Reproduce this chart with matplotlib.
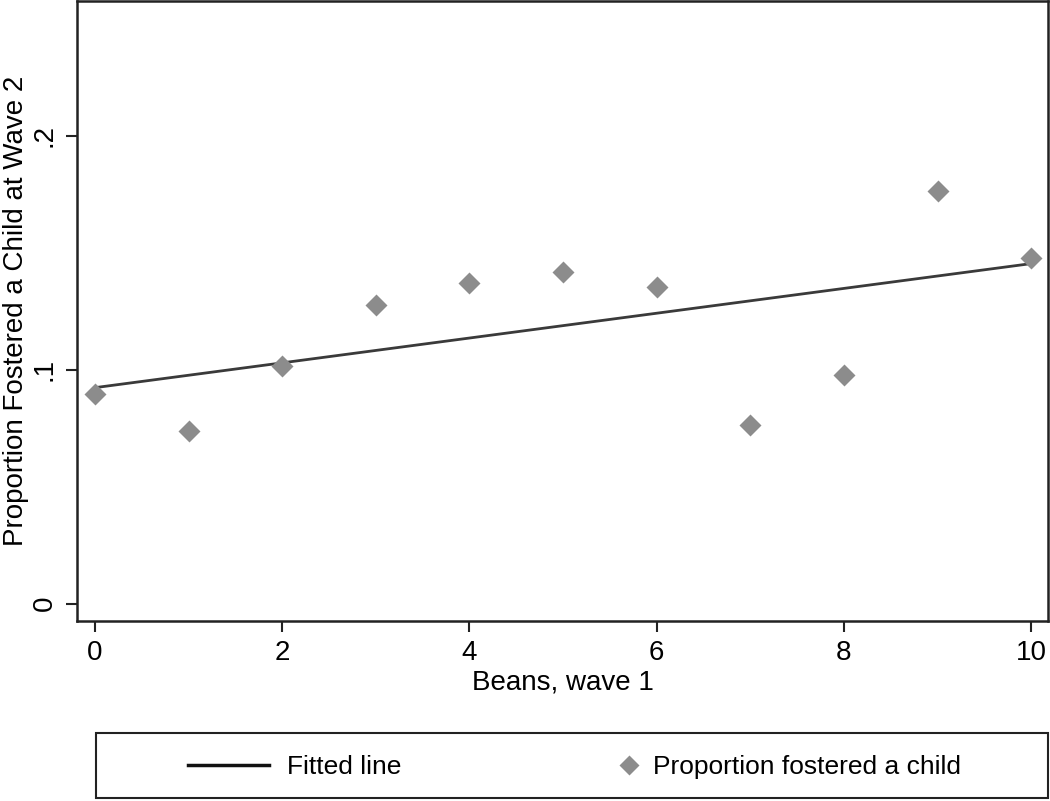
import matplotlib
matplotlib.use("Agg")
import matplotlib.pyplot as plt
from matplotlib.lines import Line2D
from matplotlib.patches import Rectangle

plt.rcParams['font.family'] = ['Liberation Sans', 'DejaVu Sans']

beans = [0, 1, 2, 3, 4, 5, 6, 7, 8, 9, 10]
prop_fostered = [0.0897, 0.0739, 0.1017, 0.1274, 0.1368, 0.1419, 0.1355, 0.0765, 0.0979, 0.1765, 0.1479]
fit_x = [0, 10]
fit_y = [0.0923, 0.1453]

fig = plt.figure(figsize=(10.5, 8.01), dpi=100)
ax = fig.add_axes([77/1050, 1 - 621/801, (1048-77)/1050, 620/801])

ax.plot(fit_x, fit_y, color='#3a3a3a', lw=2, zorder=2)
ax.plot(beans, prop_fostered, 'D', color='#8c8c8c', ms=11, mec='none', zorder=3)

ax.set_xlim(-0.192, 10.18)
ax.set_ylim(-0.0074, 0.2575)
ax.set_xticks([0, 2, 4, 6, 8, 10])
ax.set_yticks([0, 0.1, 0.2])
ax.set_yticklabels(['0', '.1', '.2'], rotation=90, va='center')
ax.tick_params(labelsize=20, length=8, width=1.5, color='#222222', pad=6)
for s in ax.spines.values():
    s.set_linewidth(1.8)
    s.set_color('#222222')

ax.set_xlabel('Beans, wave 1', fontsize=20, labelpad=2)
ax.set_ylabel('Proportion Fostered a Child at Wave 2', fontsize=20, labelpad=2)

# legend box drawn separately, two frameless legends inside
fig.add_artist(Rectangle((96/1050, 3/801), 952/1050, 65/801, transform=fig.transFigure,
                         fill=False, edgecolor='#222222', lw=1.5))
fit_handle = Line2D([], [], color='#111111', lw=2.5)
pt_handle = Line2D([], [], marker='D', ls='none', color='#8c8c8c', ms=10.5, mec='none')
leg1 = fig.legend([fit_handle], ['Fitted line'],
                  loc='center left', bbox_to_anchor=(188/1050, 34/801), frameon=False,
                  borderpad=0, borderaxespad=0, handlelength=3.08, handletextpad=0.68,
                  prop={'size': 19})
fig.legend([pt_handle], ['Proportion fostered a child'],
           loc='center left', bbox_to_anchor=(616/1050, 34/801), frameon=False,
           borderpad=0, borderaxespad=0, handlelength=1.0, handletextpad=0.42,
           prop={'size': 19})

fig.savefig('out.png', dpi=100)
